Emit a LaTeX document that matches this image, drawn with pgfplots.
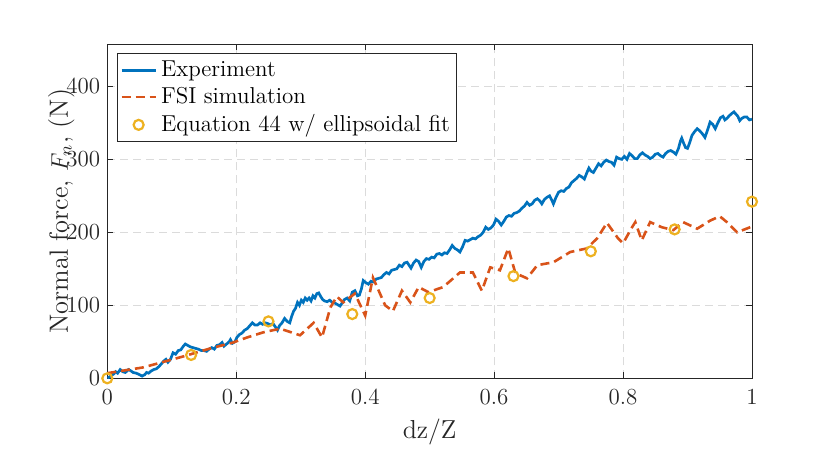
\documentclass[border=0pt]{standalone}
\usepackage{fontspec}
\usepackage{pgfplots}
\pgfplotsset{compat=1.18}
\definecolor{mBlue}{HTML}{0072BD}
\definecolor{mRed}{HTML}{D95319}
\definecolor{mYellow}{HTML}{EDB120}
\definecolor{axc}{HTML}{262626}
\begin{document}
\begin{tikzpicture}
\useasboundingbox (-53.65pt,-39.35pt) rectangle (361.35pt,189.15pt);
\begin{axis}[
  at={(0,0)}, anchor=south west, scale only axis,
  width=322.35pt, height=167.15pt,
  xmin=0, xmax=1, ymin=0, ymax=458,
  xtick={0,0.2,0.4,0.6,0.8,1},
  ytick={0,100,200,300,400},
  xticklabels={0,0.2,0.4,0.6,0.8,1},
  grid=major,
  major grid style={dash pattern=on 4pt off 2.5pt, color=black!14, line width=0.5pt},
  tick align=inside, major tick length=3pt,
  tick style={color=axc, line width=0.5pt},
  axis line style={color=axc, line width=0.5pt},
  ticklabel style={font=\fontsize{11.5}{13}\selectfont, text=axc},
  xticklabel style={yshift=-2pt},
  /pgf/number format/assume math mode=true,
  xlabel={dz/Z},
  ylabel={Normal force, $F_n$, (N)},
  every axis x label/.style={at={(axis description cs:0.5,-0.161)}, anchor=center,
    font=\fontsize{13}{15}\selectfont, text=axc},
  every axis y label/.style={at={(axis description cs:-0.0712,0.5)}, rotate=90, anchor=center,
    font=\fontsize{13.2}{15}\selectfont, text=axc},
  legend style={at={(axis description cs:0.0146,0.972)}, anchor=north west,
    draw=axc, line width=0.5pt, font=\fontsize{11.5}{13}\selectfont,
    inner xsep=1.5pt, inner ysep=1.5pt, row sep=0pt, text=black},
  legend cell align=left,
]
\addplot[color=mBlue, line width=1.35pt] coordinates {
(0.000,0) (0.005,3) (0.010,6) (0.013,9) (0.016,7) (0.020,12) (0.024,9) (0.028,8)
(0.033,12) (0.037,10) (0.040,8) (0.045,7) (0.050,5) (0.054,3) (0.058,5) (0.061,8)
(0.064,7) (0.068,10) (0.072,12) (0.076,13) (0.080,16) (0.084,20) (0.088,24) (0.091,26)
(0.094,22) (0.098,26) (0.102,35) (0.106,33) (0.110,38) (0.114,39) (0.118,44) (0.121,47)
(0.125,45) (0.129,43) (0.133,42) (0.137,41) (0.141,40) (0.146,38) (0.150,38) (0.154,37)
(0.158,40) (0.162,42) (0.166,40) (0.170,45) (0.174,46) (0.178,49) (0.181,44) (0.185,47)
(0.189,50) (0.191,53) (0.194,48) (0.198,50) (0.201,56) (0.205,60) (0.209,62) (0.213,66)
(0.217,68) (0.221,72) (0.225,76) (0.229,73) (0.233,73) (0.237,76) (0.241,74) (0.245,76)
(0.249,75) (0.253,73) (0.257,75) (0.261,70) (0.264,66) (0.267,72) (0.271,76) (0.275,82)
(0.279,78) (0.283,76) (0.286,85) (0.289,92) (0.292,96) (0.295,104) (0.298,100) (0.301,107)
(0.304,104) (0.307,110) (0.310,107) (0.313,110) (0.316,106) (0.319,113) (0.322,110) (0.325,116)
(0.328,117) (0.331,112) (0.334,108) (0.337,106) (0.341,105) (0.345,107) (0.349,104) (0.353,103)
(0.357,101) (0.361,99) (0.364,103) (0.368,108) (0.372,110) (0.376,106) (0.380,118) (0.384,120)
(0.388,113) (0.391,114) (0.394,122) (0.397,134) (0.401,131) (0.405,129) (0.409,133) (0.413,132)
(0.417,136) (0.421,137) (0.425,138) (0.429,142) (0.433,145) (0.437,143) (0.441,148) (0.445,149)
(0.449,150) (0.453,155) (0.457,153) (0.461,158) (0.465,159) (0.468,155) (0.471,151) (0.475,158)
(0.479,162) (0.483,160) (0.487,152) (0.491,160) (0.495,164) (0.499,163) (0.503,166) (0.507,165)
(0.511,170) (0.515,171) (0.519,169) (0.523,172) (0.527,171) (0.531,176) (0.535,182) (0.539,178)
(0.543,176) (0.547,173) (0.551,180) (0.555,189) (0.559,188) (0.563,190) (0.567,192) (0.571,191)
(0.575,194) (0.579,196) (0.583,200) (0.587,207) (0.591,204) (0.595,206) (0.599,210) (0.603,218)
(0.607,215) (0.611,210) (0.615,215) (0.619,221) (0.623,223) (0.627,222) (0.631,226) (0.635,227)
(0.639,229) (0.643,233) (0.647,236) (0.651,241) (0.655,237) (0.659,239) (0.663,244) (0.667,246)
(0.671,243) (0.674,239) (0.678,245) (0.682,248) (0.686,250) (0.690,243) (0.692,239) (0.696,248)
(0.700,255) (0.704,257) (0.708,256) (0.712,260) (0.716,262) (0.720,268) (0.724,271) (0.728,274)
(0.732,278) (0.736,276) (0.740,273) (0.744,282) (0.747,288) (0.750,284) (0.754,282) (0.758,288)
(0.762,294) (0.766,291) (0.770,296) (0.774,299) (0.778,297) (0.782,296) (0.786,292) (0.790,303)
(0.794,301) (0.798,300) (0.802,304) (0.806,300) (0.810,308) (0.814,305) (0.818,301) (0.822,301)
(0.826,306) (0.830,309) (0.834,306) (0.838,304) (0.842,301) (0.846,303) (0.850,307) (0.854,308)
(0.858,305) (0.862,303) (0.866,308) (0.870,311) (0.874,312) (0.878,310) (0.882,307) (0.886,315)
(0.889,325) (0.891,329) (0.894,322) (0.897,316) (0.900,315) (0.903,322) (0.907,333) (0.911,338)
(0.915,342) (0.919,339) (0.923,335) (0.927,330) (0.931,340) (0.935,351) (0.939,348) (0.943,342)
(0.947,350) (0.951,357) (0.955,359) (0.958,354) (0.961,356) (0.965,360) (0.969,363) (0.972,365)
(0.975,362) (0.978,359) (0.981,353) (0.984,356) (0.988,358) (0.992,358) (0.996,354) (1.000,355)
};
\addlegendentry{Experiment}
\addplot[color=mRed, line width=1.3pt, dash pattern=on 4.5pt off 2.5pt] coordinates {
(0.000,7) (0.056,15) (0.118,30) (0.160,41) (0.195,49) (0.217,56) (0.242,63) (0.268,68)
(0.299,59) (0.320,76) (0.333,56) (0.346,97) (0.356,112) (0.366,104) (0.384,116) (0.400,86)
(0.412,138) (0.420,122) (0.431,100) (0.443,92) (0.457,120) (0.470,104) (0.483,125) (0.498,118)
(0.521,125) (0.547,145) (0.567,145) (0.581,120) (0.594,152) (0.609,148) (0.622,178) (0.633,144)
(0.651,137) (0.667,155) (0.692,159) (0.718,173) (0.744,178) (0.760,192) (0.775,213) (0.792,192)
(0.800,185) (0.814,207) (0.819,214) (0.829,189) (0.842,214) (0.860,207) (0.878,203) (0.893,214)
(0.915,205) (0.935,216) (0.950,222) (0.961,214) (0.977,200) (1.000,208)
};
\addlegendentry{FSI simulation}
\addplot[only marks, mark=o, mark size=2.5pt, color=mYellow, line width=1.1pt] coordinates {
(0,0) (0.13,32) (0.25,78) (0.38,88) (0.5,110) (0.63,140) (0.75,174) (0.88,204) (1.0,242)
};
\addlegendentry{Equation 44 w/ ellipsoidal fit}
\end{axis}
\end{tikzpicture}
\end{document}
